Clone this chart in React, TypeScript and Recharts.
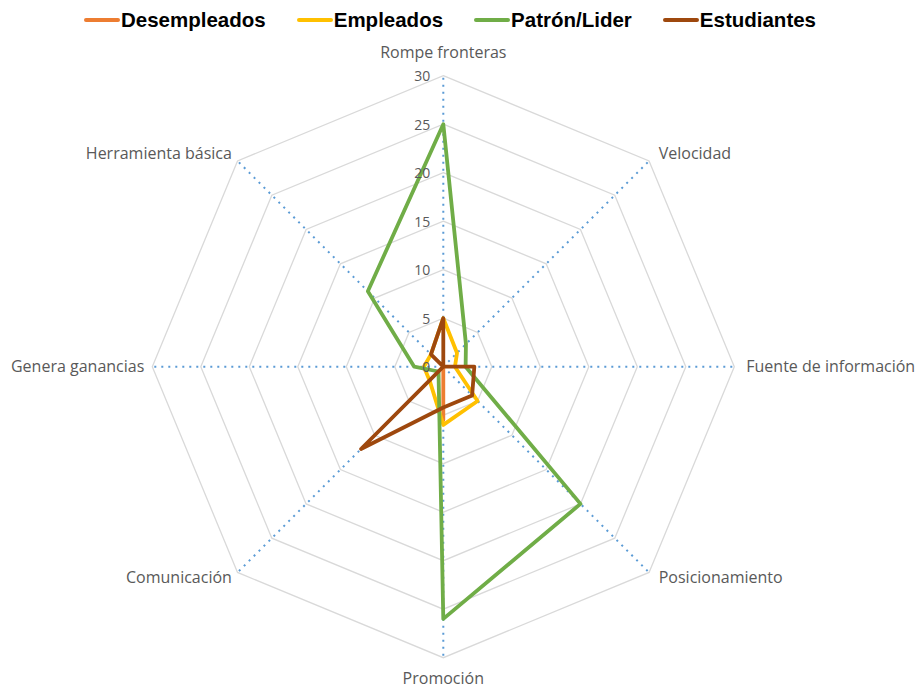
import React from 'react';
import { RadarChart, Radar, PolarGrid, PolarAngleAxis, PolarRadiusAxis, Legend } from 'recharts';

const categories = [
  'Rompe fronteras',
  'Velocidad',
  'Fuente de información',
  'Posicionamiento',
  'Promoción',
  'Comunicación',
  'Genera ganancias',
  'Herramienta básica',
];
const desempleados = [0, 0, 0, 0, 5.5, 0, 0, 0];
const empleados = [5, 2, 1.2, 5, 6, 2, 2, 1.8];
const patronLider = [25, 3.3, 2.3, 20, 26, 0.7, 3, 11];
const estudiantes = [5, 0, 3.2, 4.2, 4.2, 12, 0, 1.8];
const radiusTicks = [0, 5, 10, 15, 20, 25, 30];

const seriesMeta = [
  { key: 'Desempleados', values: desempleados, color: '#ED7D31' },
  { key: 'Empleados', values: empleados, color: '#FFC000' },
  { key: 'Patrón/Lider', values: patronLider, color: '#70AD47' },
  { key: 'Estudiantes', values: estudiantes, color: '#9E480E' },
];

const data = categories.map((name, i) => {
  const row: Record<string, any> = { name };
  seriesMeta.forEach((s) => {
    row[s.key] = s.values[i];
  });
  return row;
});

const AngleTick = (props: any) => {
  const { x, y, payload, textAnchor } = props;
  const rad = ((payload?.coordinate ?? 0) * Math.PI) / 180;
  const c = Math.cos(rad);
  const s = Math.sin(rad);
  let dx = 0;
  let dy = -1;
  if (c > 0.01) dx = 4;
  if (s > 0.99) dy = -16;
  else if (s < -0.99) dy = 12;
  else if (s > 0.5) dy = -2;
  return (
    <text
      x={x + dx}
      y={y + dy}
      textAnchor={textAnchor}
      dominantBaseline="central"
      fill="#595959"
      fontSize={16}
      fontFamily='"Open Sans", sans-serif'
    >
      {payload.value}
    </text>
  );
};

const RadiusTick = (props: any) => {
  const { x, y, payload } = props;
  return (
    <text
      x={x - 13}
      y={y}
      textAnchor="end"
      dominantBaseline="central"
      fill="#595959"
      fontSize={14}
      fontFamily='"Open Sans", sans-serif'
    >
      {payload.value}
    </text>
  );
};

const renderLegend = () => {
  return (
    <div
      style={{
        display: 'flex',
        alignItems: 'center',
        fontFamily: '"Liberation Sans", Arial, sans-serif',
        fontWeight: 'bold',
        fontSize: 20.5,
        lineHeight: '28px',
        color: '#000',
      }}
    >
      {seriesMeta.map((p, i) => (
        <div
          key={p.key}
          style={{ display: 'flex', alignItems: 'center', marginRight: i < seriesMeta.length - 1 ? 31 : 0 }}
        >
          <span
            style={{
              display: 'inline-block',
              width: 36,
              height: 4,
              background: p.color,
              borderRadius: 2,
              marginRight: 1,
            }}
          />
          <span>{p.key}</span>
        </div>
      ))}
    </div>
  );
};

export default function App() {
  return (
    <div style={{ width: 922, height: 688, background: '#fff' }}>
      <style>{`body{margin:0;}`}</style>
      <RadarChart
        width={922}
        height={688}
        data={data}
        cx={443.3}
        cy={366.7}
        outerRadius={291}
        margin={{ top: 0, right: 0, bottom: 0, left: 0 }}
      >
        <PolarGrid gridType="polygon" radialLines={false} stroke="#D9D9D9" strokeWidth={1.3} />
        <PolarGrid
          gridType="polygon"
          polarRadius={[]}
          stroke="#5B9BD5"
          strokeWidth={2}
          strokeDasharray="2 5"
        />
        <PolarAngleAxis dataKey="name" tick={<AngleTick />} axisLine={false} tickLine={false} />
        <PolarRadiusAxis
          angle={90}
          domain={[0, 30]}
          ticks={radiusTicks as any}
          tickCount={7}
          axisLine={false}
          tickLine={false}
          tick={<RadiusTick />}
        />
        {seriesMeta.map((s) => (
          <Radar
            key={s.key}
            name={s.key}
            dataKey={s.key}
            stroke={s.color}
            strokeWidth={3.8}
            strokeLinejoin="round"
            fill="none"
            fillOpacity={0}
            dot={false}
            isAnimationActive={false}
          />
        ))}
        <Legend
          layout="horizontal"
          verticalAlign="middle"
          align="center"
          content={renderLegend}
          wrapperStyle={{ top: 6, left: 84, width: 800 }}
        />
      </RadarChart>
    </div>
  );
}
